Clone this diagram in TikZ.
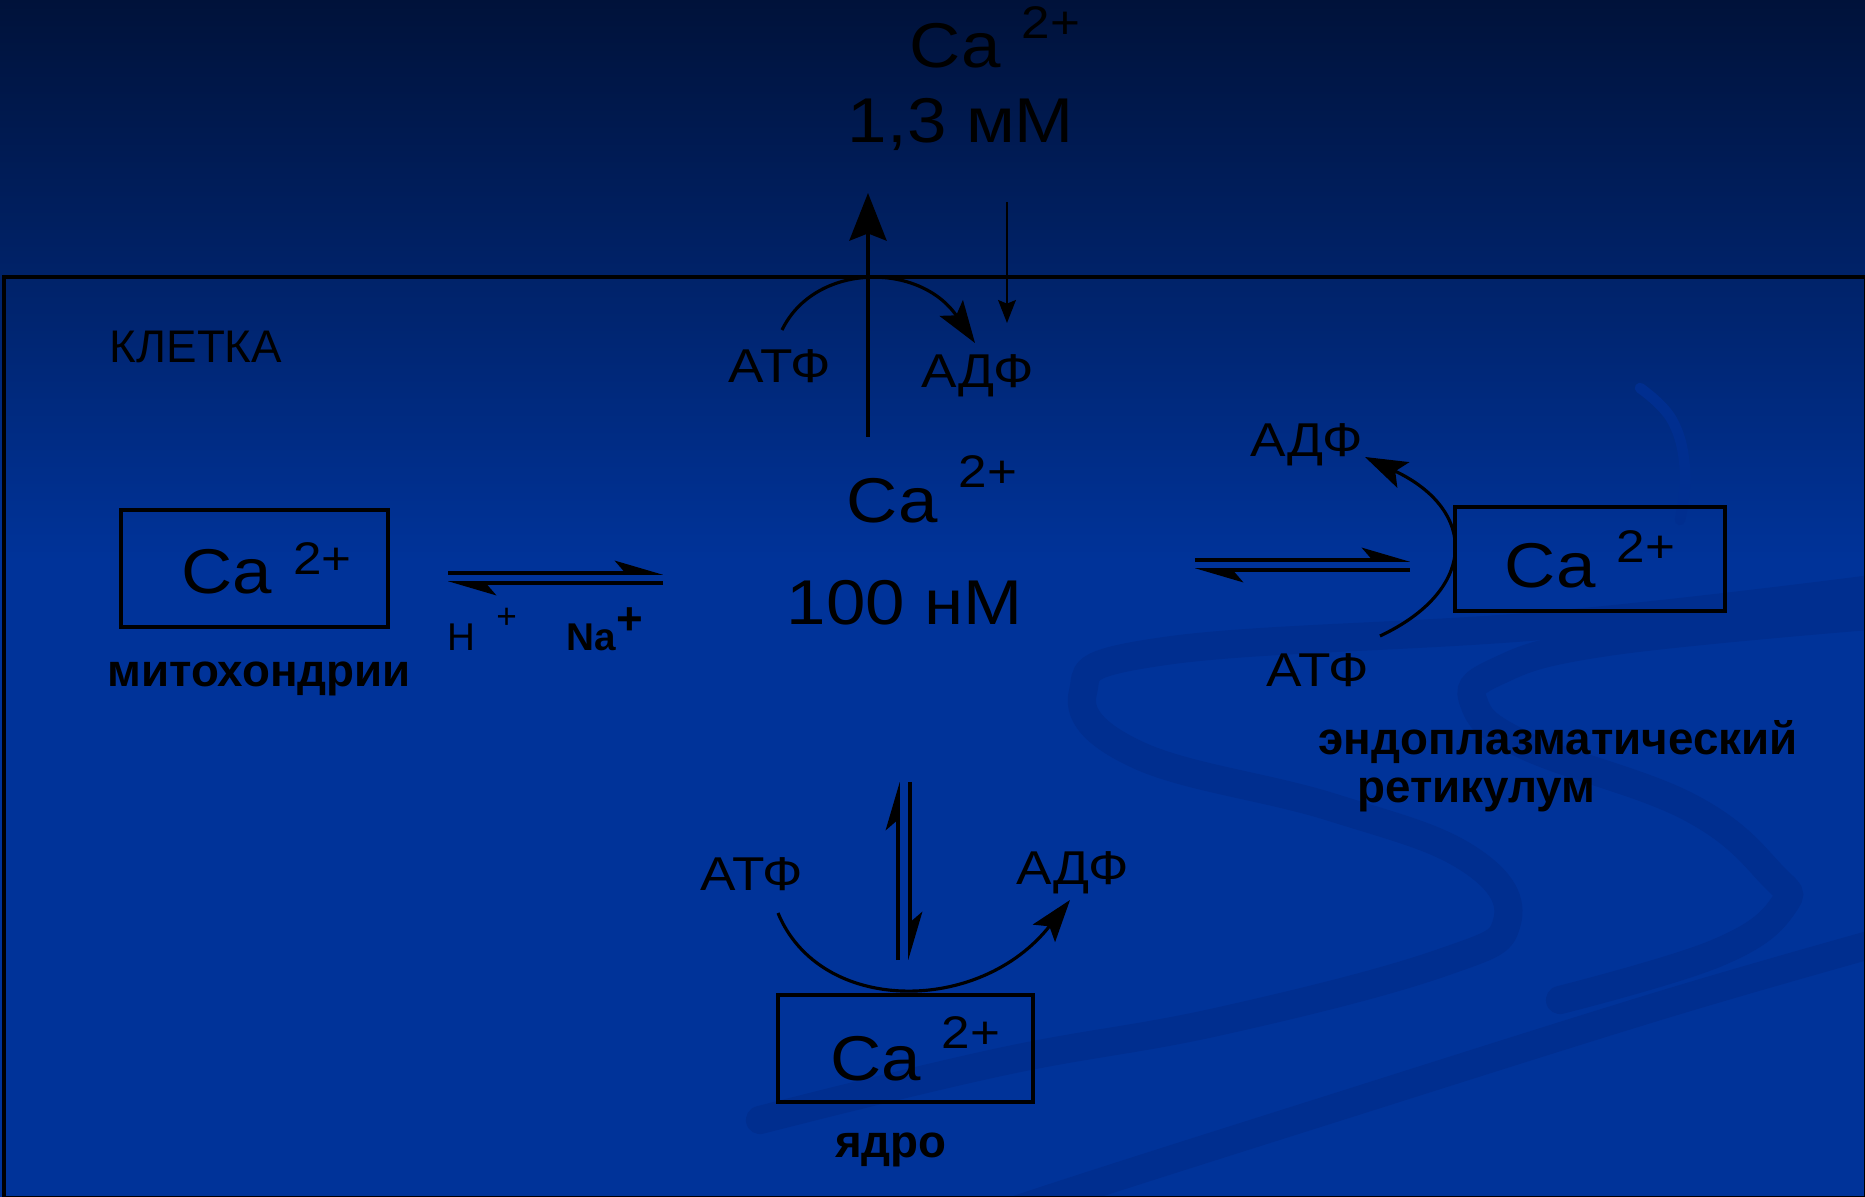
\documentclass[tikz,border=0pt]{standalone}
\usepackage{fontspec}
\setmainfont{Liberation Sans}
\newfontfamily\widefont[FakeStretch=1.12]{Liberation Sans}
\usetikzlibrary{arrows.meta}
\definecolor{slideNavy}{RGB}{0, 18, 58}
\definecolor{slideBlue}{RGB}{0, 51, 153}
\definecolor{swirlBlue}{RGB}{0, 46, 143}

\newcommand{\caion}[1]{Ca\hspace{6pt}\raisebox{#1}{\fontsize{13}{14}\selectfont 2+}}

\begin{document}
\begin{tikzpicture}[
      x=0.01cm, y=-0.01cm,
      every node/.style = {inner sep=0pt, anchor=base},
      big/.style     = {font=\fontsize{18}{20}\widefont},
      conc/.style    = {font=\fontsize{18}{20}\widefont},
      lbl/.style     = {font=\fontsize{13.5}{15}\widefont},
      organ/.style   = {font=\fontsize{13}{13.4}\selectfont\bfseries},
      ionlbl/.style  = {font=\fontsize{11}{13}\selectfont},
      cabox/.style   = {draw, line width=1pt, anchor=center,
                        font=\fontsize{18}{20}\widefont},
      swirl/.style   = {swirlBlue, line width=8pt, line cap=round},
      pump/.style    = {-{Stealth[length=12pt, width=8pt, inset=2.5pt]}, line width=0.9pt},
      harpoon/.style = {-{Stealth[left, length=12pt, width=7pt, inset=3pt]}, line width=1pt},
      flux/.style    = {-{Stealth[length=13.5pt, width=10.5pt, inset=2pt]}, line width=1.3pt},
      leak/.style    = {-{Stealth[length=6.5pt, width=5pt, inset=1pt]}, line width=0.8pt},
    ]
    \useasboundingbox (0,0) rectangle (1865,1197);
    %% ── Background ─────────────────────────────────────────────
    \shade[top color=slideNavy, bottom color=slideBlue] (0,0) rectangle (1865,560);
    \fill[slideBlue] (0,559) rectangle (1865,1197);
    \draw[swirl] plot[smooth, tension=0.7] coordinates {(1880,588) (1552,625)
      (1165,651) (1083,692) (1138,755) (1331,807) (1469,859) (1507,922)
      (1441,963) (1221,1021) (1000,1062) (760,1120)};
    \draw[swirl] plot[smooth, tension=0.7] coordinates {(1880,615) (1607,642)
      (1496,672) (1474,703) (1524,745) (1689,807) (1772,875) (1783,906)
      (1717,953) (1560,1000)};
    \draw[swirl] plot[smooth, tension=0.6] coordinates {(1880,942) (1662,1005)
      (1331,1109) (1055,1197) (900,1250)};
    \draw[swirl, line width=3pt] plot[smooth, tension=0.7] coordinates {(1640,388)
      (1672,420) (1685,470) (1680,520)};
    %% ── Cell ───────────────────────────────────────────────────
    \node[draw, line width=1pt, anchor=north west,
          minimum width=18.61cm, minimum height=9.2cm] (cell) at (2,275) {};
    \node[font=\fontsize{13}{15}\selectfont] (cellLbl) at (196,363) {КЛЕТКА};
    %% ── Outside / cytosol ──────────────────────────────────────
    \node[big]  (caOut)   at (995,68)  {\caion{8.5pt}};
    \node[conc] (concOut) at (961,143) {1,3 мМ};
    \node[big]  (caCyt)   at (932,523) {\caion{10pt}};
    \node[conc] (concCyt) at (905,625) {100 нМ};
    \node[lbl] (atpPm) at (780,383) {АТФ};
    \node[lbl] (adpPm) at (978,388) {АДФ};
    %% ── Organelles ─────────────────────────────────────────────
    \node[cabox, minimum width=2.67cm, minimum height=1.17cm] (mito)
      at (254.5,568.5) {\hspace*{7pt}\caion{5.4pt}};
    \node[organ] (mitoLbl) at (259,687) {митохондрии};
    \node[ionlbl] (hIon)  at (482,650)
      {H\hspace{6pt}\raisebox{6pt}{\fontsize{10}{12}\selectfont +}};
    \node[ionlbl] (naIon) at (605,650)
      {\bfseries Na\raisebox{4.4pt}{\fontsize{13}{14}\selectfont +}};

    \node[cabox, minimum width=2.70cm, minimum height=1.04cm] (er)
      at (1590,559) {\caion{7.1pt}};
    \node[lbl] (adpEr) at (1307,457) {АДФ};
    \node[lbl] (atpEr) at (1318,686) {АТФ};
    \node[organ, anchor=base west, align=left] (erLbl) at (1318,802)
      {эндоплазматический\\\hspace*{11pt}ретикулум};

    \node[cabox, minimum width=2.55cm, minimum height=1.07cm] (nuc)
      at (905.5,1048.5) {\hspace*{5.5pt}\caion{9.1pt}};
    \node[organ] (nucLbl) at (891,1157) {ядро};
    \node[lbl] (atpNuc) at (752,890) {АТФ};
    \node[lbl] (adpNuc) at (1073,885) {АДФ};
    %% ── Connector ends ─────────────────────────────────────────
    \coordinate (effluxS) at (868,437);  \coordinate (effluxE) at (868,193);
    \coordinate (influxS) at (1007,202); \coordinate (influxE) at (1007,323);
    \coordinate (pmcaS)   at (782,330);  \coordinate (pmcaE)   at (975,343);
    \coordinate (mitoA) at (448,573); \coordinate (cytoA) at (663,573);
    \coordinate (mitoB) at (448,583); \coordinate (cytoB) at (663,583);
    \coordinate (cytoC) at (1195,560); \coordinate (erA) at (1410,560);
    \coordinate (cytoD) at (1195,570); \coordinate (erB) at (1410,570);
    \coordinate (sercaS) at (1380,636); \coordinate (sercaE) at (1365,457);
    \coordinate (nucA) at (898,960); \coordinate (cytoE) at (898,782);
    \coordinate (nucB) at (910,960); \coordinate (cytoF) at (910,782);
    \coordinate (nucPumpS) at (778,913); \coordinate (nucPumpE) at (1070,900);
    %% ── Arrows ─────────────────────────────────────────────────
    \draw[flux] (effluxS) -- (effluxE);
    \draw[leak] (influxS) -- (influxE);
    \draw[pump] (pmcaS) .. controls (815,262) and (920,262) .. (pmcaE);

    \draw[harpoon] (mitoA) -- (cytoA);
    \draw[harpoon] (cytoB) -- (mitoB);

    \draw[harpoon] (cytoC) -- (erA);
    \draw[harpoon] (erB) -- (cytoD);
    \draw[pump] (sercaS) .. controls (1478,590) and (1478,510) .. (sercaE);

    \draw[harpoon] (nucA) -- (cytoE);
    \draw[harpoon] (cytoF) -- (nucB);
    \draw[pump] (nucPumpS) .. controls (820,1015) and (980,1015) .. (nucPumpE);
  \end{tikzpicture}
\end{document}
